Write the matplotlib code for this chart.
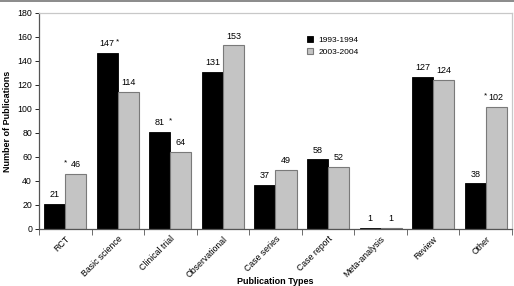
import numpy as np
import matplotlib.pyplot as plt

plt.rcParams['font.family'] = ['Liberation Sans', 'DejaVu Sans']

categories = ["RCT", "Basic science", "Clinical trial", "Observational", "Case series",
              "Case report", "Meta-analysis", "Review", "Other"]
y1993 = [21, 147, 81, 131, 37, 58, 1, 127, 38]
y2003 = [46, 114, 64, 153, 49, 52, 1, 124, 102]
star1993 = [False, True, True, False, False, False, False, False, False]
star2003 = [True, False, False, False, False, False, False, False, True]

fig = plt.figure(figsize=(5.14, 2.86), dpi=100)
ax = fig.add_axes([39/514, 57/286, 473/514, 216/286])

x = np.arange(len(categories))
w = 0.4
b1 = ax.bar(x - w/2, y1993, w, color="black", edgecolor="black", linewidth=0.6, label="1993-1994")
b2 = ax.bar(x + w/2, y2003, w, color="#c4c4c4", edgecolor="#7a7a7a", linewidth=0.8, label="2003-2004")

for i in range(len(categories)):
    ax.text(x[i] - w/2, y1993[i] + 4, str(y1993[i]), ha="center", va="bottom", fontsize=6.5)
    ax.text(x[i] + w/2, y2003[i] + 4, str(y2003[i]), ha="center", va="bottom", fontsize=6.5)
    if star1993[i]:
        ax.text(x[i] - w/2 + 0.2, y1993[i] + 6, "*", ha="center", va="bottom", fontsize=6)
    if star2003[i]:
        ax.text(x[i] + w/2 - 0.2, y2003[i] + 6, "*", ha="center", va="bottom", fontsize=6)

ax.set_xlim(-0.5, len(categories) - 0.5)
ax.set_ylim(0, 180)
ax.set_yticks(range(0, 181, 20))
ax.set_xticks(np.arange(len(categories) + 1) - 0.5)
ax.set_xticklabels([])
ax.set_xticks(x, minor=True)
ax.set_xticklabels(categories, minor=True, rotation=45, ha="right", rotation_mode="anchor", fontsize=6.3)
ax.tick_params(axis="x", which="minor", length=0, pad=4)
ax.tick_params(axis="x", which="major", length=4, width=0.6, direction="out", color="#555555")
ax.tick_params(axis="y", length=3, width=0.6, labelsize=6.3, pad=2)

ax.spines["top"].set_color("#c8c8c8")
ax.spines["right"].set_color("#c8c8c8")
ax.spines["left"].set_color("#555555")
ax.spines["bottom"].set_color("#555555")
for s in ax.spines.values():
    s.set_linewidth(0.9)

ax.set_ylabel("Number of Publications", fontsize=6.5, fontweight="bold", labelpad=4)
ax.set_xlabel("Publication Types", fontsize=6.5, fontweight="bold")
ax.xaxis.set_label_coords(0.5, -0.222)

ax.legend(handles=[b1, b2], loc="upper left", bbox_to_anchor=(0.55, 0.93), frameon=False,
          fontsize=6, handlelength=0.8, handleheight=0.8, handletextpad=0.6, labelspacing=0.5)

fig.add_artist(plt.Line2D([0, 1], [0.996, 0.996], color="#777777", linewidth=1.2))

fig.savefig("out.png", dpi=100)
